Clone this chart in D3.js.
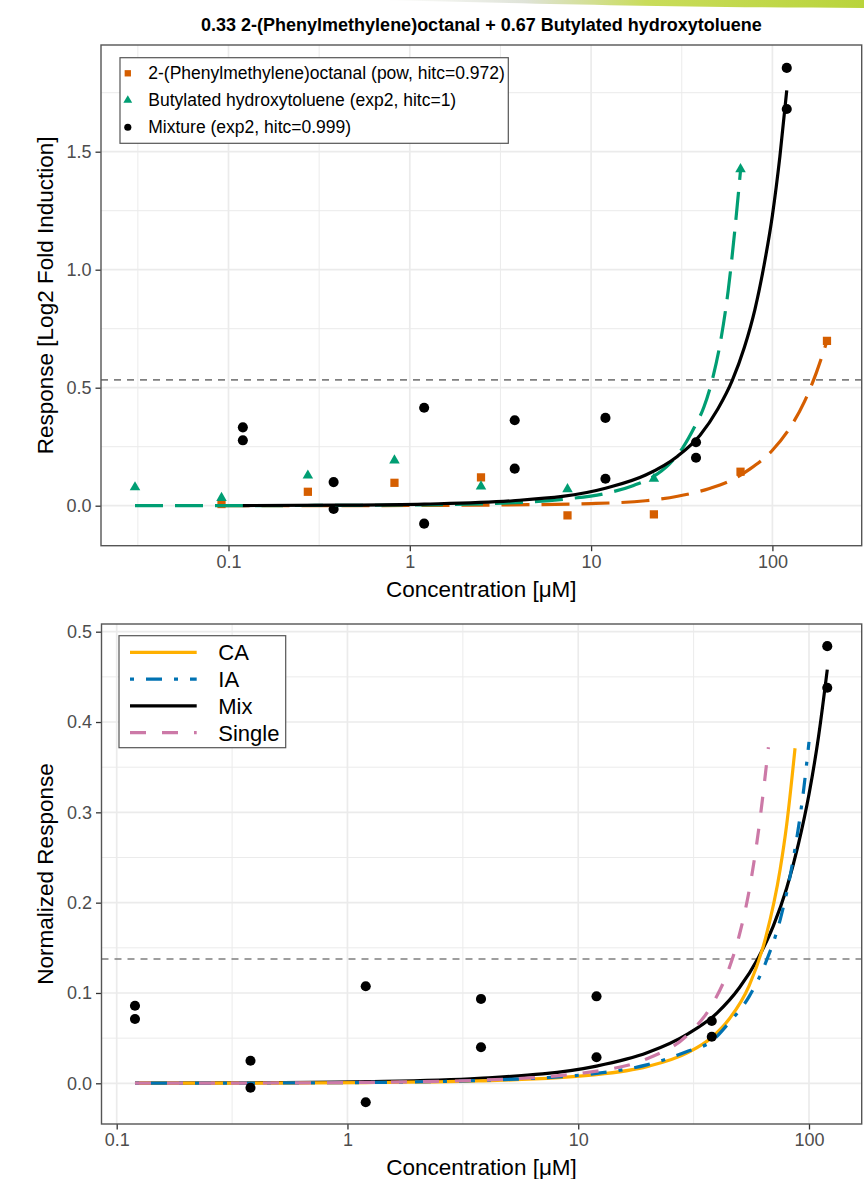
<!DOCTYPE html>
<html>
<head>
<meta charset="utf-8">
<script src="https://cdn.jsdelivr.net/npm/d3@7"></script>
<style>
  html, body { margin: 0; padding: 0; background: #ffffff; }
  svg { display: block; font-family: "Liberation Sans", Arial, Helvetica, sans-serif; }
</style>
</head>
<body>
<svg id="chart" width="864" height="1179"></svg>
<script>
// ---------- data: single compounds and mixture (Log2 fold induction) ----------
const pmoConc = [0.0915, 0.274, 0.823, 2.47, 7.41, 22.2, 66.7, 200];
const pmoResp = [0.007, 0.059, 0.097, 0.12, -0.041, -0.037, 0.144, 0.698];

const bhtConc = [0.0305, 0.0915, 0.274, 0.823, 2.47, 7.41, 22.2, 66.7];
const bhtResp = [0.078, 0.033, 0.128, 0.192, 0.082, 0.07, 0.114, 1.426];

const mixConc = [0.12, 0.12, 0.38, 0.38, 1.2, 1.2, 3.79, 3.79, 12, 12, 37.9, 37.9, 120, 120];
const mixResp = [0.332, 0.277, 0.100, -0.014, 0.415, -0.076, 0.362, 0.157, 0.372, 0.114, 0.269, 0.203, 1.855, 1.681];

// fitted curves of the top panel
const pmoFitConc = [0.0915, 0.3, 1, 3, 10, 20, 30, 45, 60, 75, 100, 125, 150, 175, 200];
const pmoFitResp = [0, 0.0004, 0.001, 0.003, 0.009, 0.021, 0.04, 0.073, 0.11, 0.155, 0.235, 0.33, 0.44, 0.565, 0.698];

const bhtFitConc = [0.0305, 0.1, 0.3, 1, 3, 7.4, 12, 17, 22, 27, 32, 37, 42, 47, 52, 57, 62, 66.7];
const bhtFitResp = [0, 0.0003, 0.001, 0.0032, 0.0098, 0.029, 0.052, 0.085, 0.123, 0.176, 0.245, 0.33, 0.42, 0.545, 0.705, 0.91, 1.165, 1.42];

const mixFitConc = [0.12, 0.4, 1.2, 3.7, 12, 20, 30, 40, 50, 60, 70, 80, 90, 100, 110, 120];
const mixFitResp = [0.0007, 0.0022, 0.0068, 0.021, 0.074, 0.13, 0.21, 0.30, 0.41, 0.53, 0.67, 0.83, 1.02, 1.23, 1.48, 1.76];

const topThreshold = 0.533;

// ---------- data: normalized mixture response and predictions ----------
const normConc = [0.12, 0.12, 0.38, 0.38, 1.2, 1.2, 3.79, 3.79, 12, 12, 37.9, 37.9, 120, 120];
const normResp = [0.0859, 0.0712, 0.025, -0.0049, 0.1074, -0.021, 0.0934, 0.0399, 0.0963, 0.0288, 0.069, 0.0516, 0.484, 0.438];

const mixNConc = [0.12, 0.4, 1.2, 3.7, 12, 20, 30, 40, 50, 60, 70, 80, 90, 100, 110, 120];
const mixNResp = [0.0002, 0.0006, 0.0018, 0.0055, 0.019, 0.034, 0.055, 0.078, 0.106, 0.138, 0.174, 0.216, 0.265, 0.32, 0.384, 0.458];

const caConc = [0.12, 0.4, 1.2, 3.7, 12, 20, 30, 38, 45, 55, 65, 75, 80, 87];
const caResp = [0.0001, 0.0003, 0.0008, 0.0026, 0.0096, 0.0187, 0.0343, 0.051, 0.0709, 0.108, 0.162, 0.237, 0.286, 0.371];

const iaConc = [0.12, 0.4, 1.2, 3.7, 12, 20, 30, 38, 45, 55, 65, 75, 85, 95, 100];
const iaResp = [0.0001, 0.0003, 0.0009, 0.0031, 0.011, 0.0207, 0.0357, 0.047, 0.067, 0.096, 0.134, 0.181, 0.245, 0.327, 0.378];

const singleConc = [0.12, 0.4, 1.2, 3.7, 12, 20, 30, 38, 45, 50, 55, 60, 66.7];
const singleResp = [0.0001, 0.0003, 0.001, 0.0034, 0.0134, 0.0275, 0.0544, 0.087, 0.127, 0.165, 0.213, 0.274, 0.372];

const bottomThreshold = 0.1376;

// ---------- axis breaks and labels ----------
const xTicks = [0.1, 1, 10, 100];
const xTickLabels = ["0.1", "1", "10", "100"];
const topYTicks = [0, 0.5, 1.0, 1.5];
const topYTickLabels = ["0.0", "0.5", "1.0", "1.5"];
const topYMinor = [0.25, 0.75, 1.25, 1.75];
const botYTicks = [0, 0.1, 0.2, 0.3, 0.4, 0.5];
const botYTickLabels = ["0.0", "0.1", "0.2", "0.3", "0.4", "0.5"];
const botYMinor = [0.05, 0.15, 0.25, 0.35, 0.45];

const titleText = "0.33 2-(Phenylmethylene)octanal + 0.67 Butylated hydroxytoluene";
const topLegendLabels = [
  "2-(Phenylmethylene)octanal (pow, hitc=0.972)",
  "Butylated hydroxytoluene (exp2, hitc=1)",
  "Mixture (exp2, hitc=0.999)"
];
const botLegendLabels = ["CA", "IA", "Mix", "Single"];

// ---------- styling ----------
const COL = {
  pmo: "#D55E00", bht: "#009E73", mix: "#000000",
  ca: "#FFB000", ia: "#0072B2", single: "#CC79A7",
  grid: "#EBEBEB", border: "#555555", tick: "#333333", tickText: "#4D4D4D"
};
const LW = 3.2;

const svg = d3.select("#chart");

// decorative swoosh at the top edge
const defs = svg.append("defs");
const grad = defs.append("linearGradient").attr("id", "swoosh").attr("x1", "0").attr("x2", "1");
grad.append("stop").attr("offset", "0").attr("stop-color", "#ffffff");
grad.append("stop").attr("offset", "0.3").attr("stop-color", "#dfe3d8");
grad.append("stop").attr("offset", "0.55").attr("stop-color", "#c9dc5a");
grad.append("stop").attr("offset", "1").attr("stop-color", "#b9d43c");
svg.append("path")
  .attr("d", "M380,0 C520,3 640,7 864,8 L864,0 Z")
  .attr("fill", "url(#swoosh)");

// title
svg.append("text")
  .attr("x", 481.4).attr("y", 30.5)
  .attr("text-anchor", "middle")
  .attr("font-weight", "bold")
  .attr("font-size", 18)
  .attr("fill", "#000")
  .text(titleText);

function makePanel(cfg) {
  const g = svg.append("g");
  const { left, right, top, bottom } = cfg.box;
  const x = d3.scaleLog().domain([0.1, 100]).range(cfg.xRange);
  const y = d3.scaleLinear().domain([0, cfg.yRef]).range(cfg.yRange);

  const clipId = cfg.id + "-clip";
  defs.append("clipPath").attr("id", clipId)
    .append("rect").attr("x", left).attr("y", top)
    .attr("width", right - left).attr("height", bottom - top);

  g.append("rect").attr("x", left).attr("y", top)
    .attr("width", right - left).attr("height", bottom - top).attr("fill", "#fff");

  const grid = g.append("g").attr("clip-path", `url(#${clipId})`);
  // minor grid
  const xMinor = [-1.5, -0.5, 0.5, 1.5, 2.5].map(e => Math.pow(10, e));
  grid.selectAll(".xminor").data(xMinor).join("line")
    .attr("x1", d => x(d)).attr("x2", d => x(d))
    .attr("y1", top).attr("y2", bottom)
    .attr("stroke", COL.grid).attr("stroke-width", 1);
  grid.selectAll(".yminor").data(cfg.yMinor).join("line")
    .attr("x1", left).attr("x2", right)
    .attr("y1", d => y(d)).attr("y2", d => y(d))
    .attr("stroke", COL.grid).attr("stroke-width", 1);
  // major grid
  grid.selectAll(".xmajor").data(xTicks).join("line")
    .attr("x1", d => x(d)).attr("x2", d => x(d))
    .attr("y1", top).attr("y2", bottom)
    .attr("stroke", COL.grid).attr("stroke-width", 1.7);
  grid.selectAll(".ymajor").data(cfg.yTicks).join("line")
    .attr("x1", left).attr("x2", right)
    .attr("y1", d => y(d)).attr("y2", d => y(d))
    .attr("stroke", COL.grid).attr("stroke-width", 1.7);

  const plot = g.append("g").attr("clip-path", `url(#${clipId})`);

  // threshold line
  plot.append("line")
    .attr("x1", left).attr("x2", right)
    .attr("y1", y(cfg.threshold)).attr("y2", y(cfg.threshold))
    .attr("stroke", "#7F7F7F").attr("stroke-width", 1.6)
    .attr("stroke-dasharray", "7,6");

  // axes
  const xAxis = d3.axisBottom(x).tickValues(xTicks)
    .tickFormat((d, i) => xTickLabels[i]).tickSize(5.5).tickPadding(4);
  const yAxis = d3.axisLeft(y).tickValues(cfg.yTicks)
    .tickFormat((d, i) => cfg.yLabels[i]).tickSize(5.5).tickPadding(4);

  const gx = g.append("g").attr("transform", `translate(0,${bottom})`).call(xAxis);
  const gy = g.append("g").attr("transform", `translate(${left},0)`).call(yAxis);
  [gx, gy].forEach(a => {
    a.select(".domain").remove();
    a.selectAll(".tick line").attr("stroke", COL.tick).attr("stroke-width", 1.3);
    a.selectAll(".tick text").attr("fill", COL.tickText)
      .attr("font-size", 18).attr("font-family", "Liberation Sans, Arial, sans-serif");
  });
  gx.selectAll(".tick text").attr("dy", "0.71em").attr("y", 9.5);
  gy.selectAll(".tick text").attr("x", -9.5);

  // panel border
  g.append("rect").attr("x", left).attr("y", top)
    .attr("width", right - left).attr("height", bottom - top)
    .attr("fill", "none").attr("stroke", COL.border).attr("stroke-width", 1.4);

  // axis titles
  g.append("text")
    .attr("x", (left + right) / 2).attr("y", bottom + 51)
    .attr("text-anchor", "middle").attr("font-size", 22.5).attr("fill", "#000")
    .text("Concentration [\u03BCM]");
  g.append("text")
    .attr("transform", `translate(53,${(top + bottom) / 2}) rotate(-90)`)
    .attr("text-anchor", "middle").attr("font-size", 22.5).attr("fill", "#000")
    .text(cfg.yTitle);

  return { x, y, plot, g };
}

function curve(panel, conc, resp, color, dash) {
  const pts = conc.map((c, i) => [c, resp[i]]);
  const line = d3.line()
    .x(d => panel.x(d[0])).y(d => panel.y(d[1]))
    .curve(d3.curveMonotoneX);
  panel.plot.append("path").datum(pts)
    .attr("d", line)
    .attr("fill", "none").attr("stroke", color)
    .attr("stroke-width", LW)
    .attr("stroke-linecap", "butt").attr("stroke-linejoin", "round")
    .attr("stroke-dasharray", dash || null);
}

function points(panel, conc, resp, shape, color, size) {
  const sym = d3.symbol().type(shape).size(size);
  panel.plot.selectAll(null).data(conc.map((c, i) => [c, resp[i]])).join("path")
    .attr("transform", d => `translate(${panel.x(d[0])},${panel.y(d[1])})`)
    .attr("d", sym).attr("fill", color);
}

// ---------- top panel ----------
const topPanel = makePanel({
  id: "toppanel",
  box: { left: 101, right: 861.7, top: 45, bottom: 545.7 },
  xRange: [228.5, 772.4],
  yRef: 1.5, yRange: [505.7, 151.7],
  yTicks: topYTicks, yLabels: topYTickLabels, yMinor: topYMinor,
  threshold: topThreshold,
  yTitle: "Response [Log2 Fold Induction]"
});

points(topPanel, pmoConc, pmoResp, d3.symbolSquare, COL.pmo, 68);
points(topPanel, bhtConc, bhtResp, d3.symbolTriangle, COL.bht, 48);
points(topPanel, mixConc, mixResp, d3.symbolCircle, COL.mix, 80);
curve(topPanel, pmoFitConc, pmoFitResp, COL.pmo, "28,12");
curve(topPanel, bhtFitConc, bhtFitResp, COL.bht, "28,12");
curve(topPanel, mixFitConc, mixFitResp, COL.mix, null);

// top legend
{
  const lg = svg.append("g");
  lg.append("rect").attr("x", 120).attr("y", 57.7).attr("width", 388.3).attr("height", 85.6)
    .attr("fill", "#fff").attr("stroke", "#555").attr("stroke-width", 1.2);
  const shapes = [d3.symbolSquare, d3.symbolTriangle, d3.symbolCircle];
  const colors = [COL.pmo, COL.bht, COL.mix];
  const sizes = [40, 34, 40];
  topLegendLabels.forEach((lab, i) => {
    const cy = 73.3 + i * 27;
    lg.append("path").attr("transform", `translate(127.8,${cy})`)
      .attr("d", d3.symbol().type(shapes[i]).size(sizes[i])).attr("fill", colors[i]);
    lg.append("text").attr("x", 148.3).attr("y", cy + 6)
      .attr("font-size", 17.5).attr("fill", "#000").text(lab);
  });
}

// ---------- bottom panel ----------
const botPanel = makePanel({
  id: "botpanel",
  box: { left: 101.5, right: 861.7, top: 624, bottom: 1124 },
  xRange: [116.7, 809],
  yRef: 0.5, yRange: [1083.3, 631.7],
  yTicks: botYTicks, yLabels: botYTickLabels, yMinor: botYMinor,
  threshold: bottomThreshold,
  yTitle: "Normalized Response"
});

curve(botPanel, mixNConc, mixNResp, COL.mix, null);
curve(botPanel, caConc, caResp, COL.ca, null);
curve(botPanel, iaConc, iaResp, COL.ia, "4,12,16,12");
curve(botPanel, singleConc, singleResp, COL.single, "16,16");
points(botPanel, normConc, normResp, d3.symbolCircle, COL.mix, 80);

// bottom legend
{
  const lg = svg.append("g");
  lg.append("rect").attr("x", 119).attr("y", 635.7).attr("width", 166.7).attr("height", 112)
    .attr("fill", "#fff").attr("stroke", "#555").attr("stroke-width", 1.2);
  const colors = [COL.ca, COL.ia, COL.mix, COL.single];
  const dashes = [null, "4,12,16,12", null, "16,16"];
  botLegendLabels.forEach((lab, i) => {
    const cy = 652.3 + i * 26.8;
    lg.append("line").attr("x1", 130).attr("x2", 196.7).attr("y1", cy).attr("y2", cy)
      .attr("stroke", colors[i]).attr("stroke-width", LW)
      .attr("stroke-dasharray", dashes[i]);
    lg.append("text").attr("x", 218.3).attr("y", cy + 8)
      .attr("font-size", 22).attr("fill", "#000").text(lab);
  });
}
</script>
</body>
</html>
